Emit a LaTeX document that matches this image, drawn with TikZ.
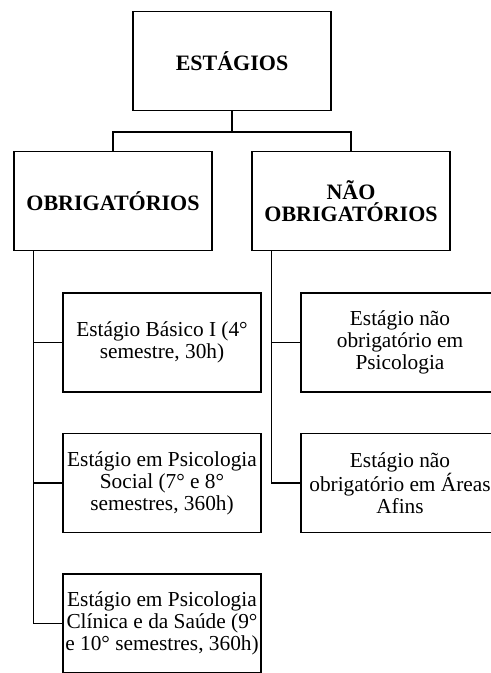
\documentclass[tikz,border=0pt]{standalone}
\usepackage{fontspec}
\setmainfont{Liberation Serif}
\usetikzlibrary{trees}
\tikzstyle{every node}=[draw=black,line width=1.1pt,align=center,inner sep=0pt,
  minimum width=148.5pt,minimum height=74pt,font=\fontsize{16}{16.5}\selectfont]
\tikzstyle{titulo}=[font=\fontsize{16.5}{16.5}\selectfont\bfseries]

\begin{document}
\begin{tikzpicture}[x=0.75pt,y=0.75pt,
  level 1/.style={sibling distance=178.5pt,level distance=105pt,
    edge from parent path={(\tikzparentnode.south) -- ++(0,-21) -| (\tikzchildnode.north)}},
  level 2/.style={grow via three points={one child at (49,-141.5) and
    two children at (49,-141.5) and (49,-282)},
    edge from parent path={([xshift=15pt]\tikzparentnode.south west) |- (\tikzchildnode.west)}},
  edge from parent/.style={draw,line width=0.9pt}]
  \useasboundingbox (0,0) rectangle (491,673);
  \node [titulo] (estagios) at (232,612) {ESTÁGIOS}
    child { node [titulo] (obrig) {OBRIGATÓRIOS}
      child { node (basico) {Estágio Básico I (4°\\ semestre, 30h)} }
      child { node (social) {Estágio em Psicologia\\ Social (7° e 8°\\ semestres, 360h)} }
      child { node (clinica) {Estágio em Psicologia\\ Clínica e da Saúde (9°\\ e 10° semestres, 360h)} }
    }
    child { node [titulo] (naoobrig) {NÃO\\ OBRIGATÓRIOS}
      child { node (naopsico) {Estágio não\\ obrigatório em\\ Psicologia} }
      child { node (naoafins) {Estágio não\\ obrigatório em Áreas\\ Afins} }
    };
\end{tikzpicture}
\end{document}
